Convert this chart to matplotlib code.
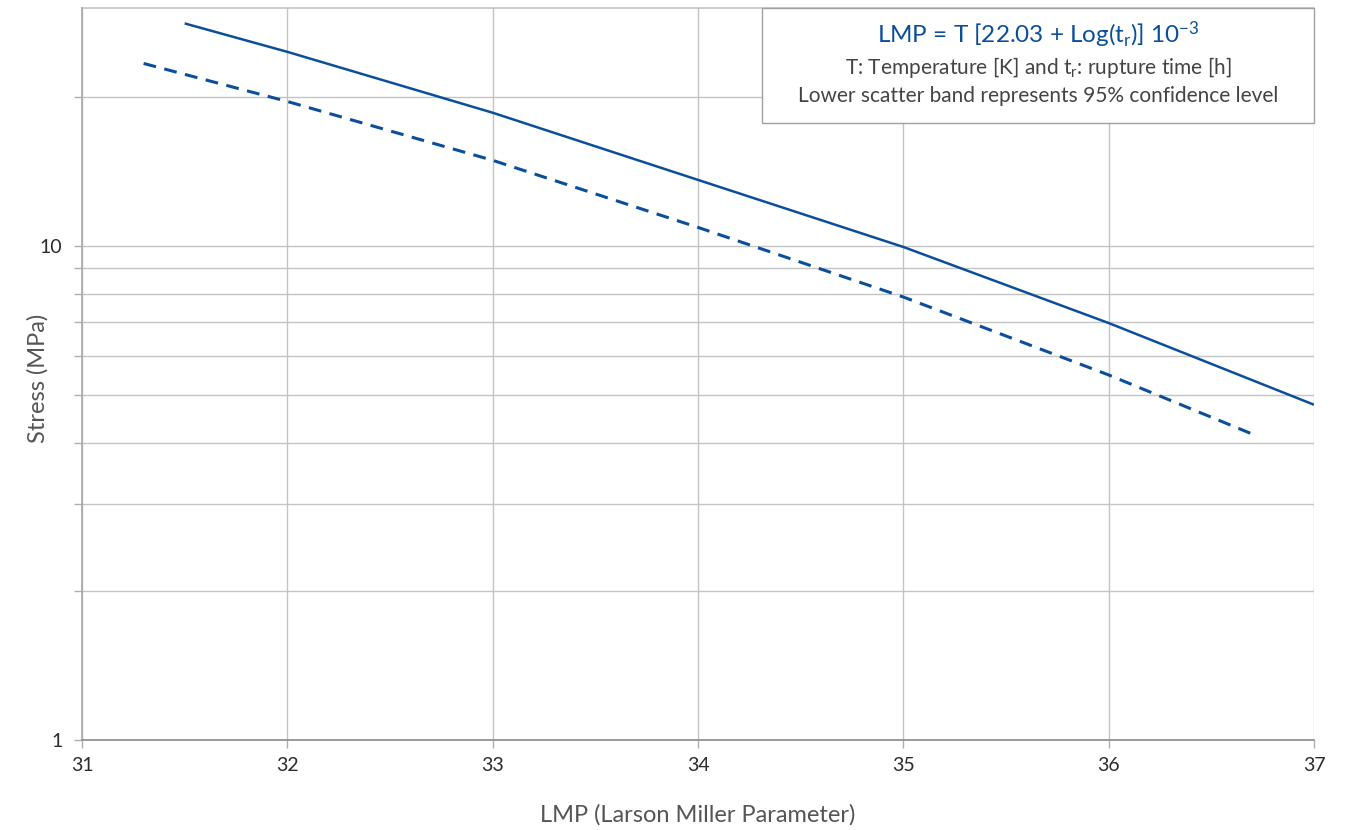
import matplotlib
matplotlib.use("Agg")
import matplotlib.pyplot as plt
from matplotlib.patches import Rectangle
from matplotlib.ticker import FixedLocator, NullFormatter

# mean rupture curve and lower 95% scatter band
lmp_mean = [31.5, 32.0, 33.0, 34.0, 35.0, 36.0, 37.0]
stress_mean = [28.2, 24.7, 18.6, 13.6, 9.95, 6.98, 4.77]
lmp_low = [31.3, 32.0, 33.0, 34.0, 35.0, 36.0, 36.7]
stress_low = [23.4, 19.6, 14.9, 10.9, 7.88, 5.48, 4.16]

x_ticks = [31, 32, 33, 34, 35, 36, 37]
y_major = [1, 10]
y_minor = [2, 3, 4, 5, 6, 7, 8, 9, 20]

BLUE = "#0b4f9c"
GRID = "#c4c4c4"
TXT = "#2b2b2b"

plt.rcParams["font.family"] = ["Lato", "DejaVu Sans"]
plt.rcParams["mathtext.fontset"] = "custom"
plt.rcParams["mathtext.rm"] = "Lato"
plt.rcParams["mathtext.it"] = "Lato"

fig = plt.figure(figsize=(13.61, 8.30), dpi=100)
ax = fig.add_axes([82 / 1361, 1 - 740 / 830, 1232 / 1361, 732 / 830])

ax.set_yscale("log")
ax.set_xlim(31, 37)
ax.set_ylim(1, 30.3)

ax.plot(lmp_mean, stress_mean, color=BLUE, lw=1.8, solid_capstyle="butt", zorder=3)
ax.plot(lmp_low, stress_low, color=BLUE, lw=2.2, dashes=(4.2, 2.8), zorder=3)

ax.xaxis.set_major_locator(FixedLocator(x_ticks))
ax.yaxis.set_major_locator(FixedLocator(y_major))
ax.yaxis.set_minor_locator(FixedLocator(y_minor))
ax.yaxis.set_minor_formatter(NullFormatter())
ax.set_yticklabels(["1", "10"])
ax.xaxis.set_minor_locator(FixedLocator([]))

ax.grid(True, which="both", axis="y", color=GRID, lw=1.0)
ax.grid(True, which="major", axis="x", color=GRID, lw=1.0)

for s in ["top", "right"]:
    ax.spines[s].set_visible(False)
ax.spines["left"].set_color("#a8a8a8")
ax.spines["bottom"].set_color("#8a8a8a")
ax.spines["left"].set_linewidth(1.2)
ax.spines["bottom"].set_linewidth(1.2)
ax.axhline(30.3, color=GRID, lw=1.2, clip_on=False)

ax.tick_params(axis="both", which="both", length=6, width=1.0, color="#b0b0b0",
               labelsize=14, labelcolor=TXT)
ax.tick_params(axis="y", which="major", pad=8)
ax.tick_params(axis="x", which="major", pad=6)

ax.set_xlabel("LMP (Larson Miller Parameter)", fontsize=17, color="#555555")
ax.set_ylabel("Stress (MPa)", fontsize=17, color="#555555")
ax.xaxis.set_label_coords((698 - 82) / 1232, -(815 - 740) / 732)
ax.yaxis.set_label_coords(-(82 - 38) / 1232, (740 - 378) / 732)
ax.xaxis.label.set_va("center")
ax.yaxis.label.set_va("center")

# formula box in upper right
x0 = (762 - 82) / 1232
y0 = (740 - 123) / 732
ax.add_patch(Rectangle((x0, y0), 1 - x0, 1 - y0, transform=ax.transAxes,
                       facecolor="white", edgecolor="#a0a0a0", lw=1.0, zorder=5,
                       clip_on=False))
xc = (x0 + 1) / 2
ax.text(xc, 1 - (35 - 8) / 732, r"LMP = T [22.03 + Log(t$_\mathrm{r}$)] 10$^{\mathrm{-3}}$",
        transform=ax.transAxes, ha="center", va="center", fontsize=17.5,
        color=BLUE, zorder=6)
ax.text(xc, 1 - (67 - 8) / 732, r"T: Temperature [K] and t$_\mathrm{r}$: rupture time [h]",
        transform=ax.transAxes, ha="center", va="center", fontsize=15,
        color="#444444", zorder=6)
ax.text(xc, 1 - (96 - 8) / 732, "Lower scatter band represents 95% confidence level",
        transform=ax.transAxes, ha="center", va="center", fontsize=15,
        color="#444444", zorder=6)

fig.savefig("out.png", dpi=100)
